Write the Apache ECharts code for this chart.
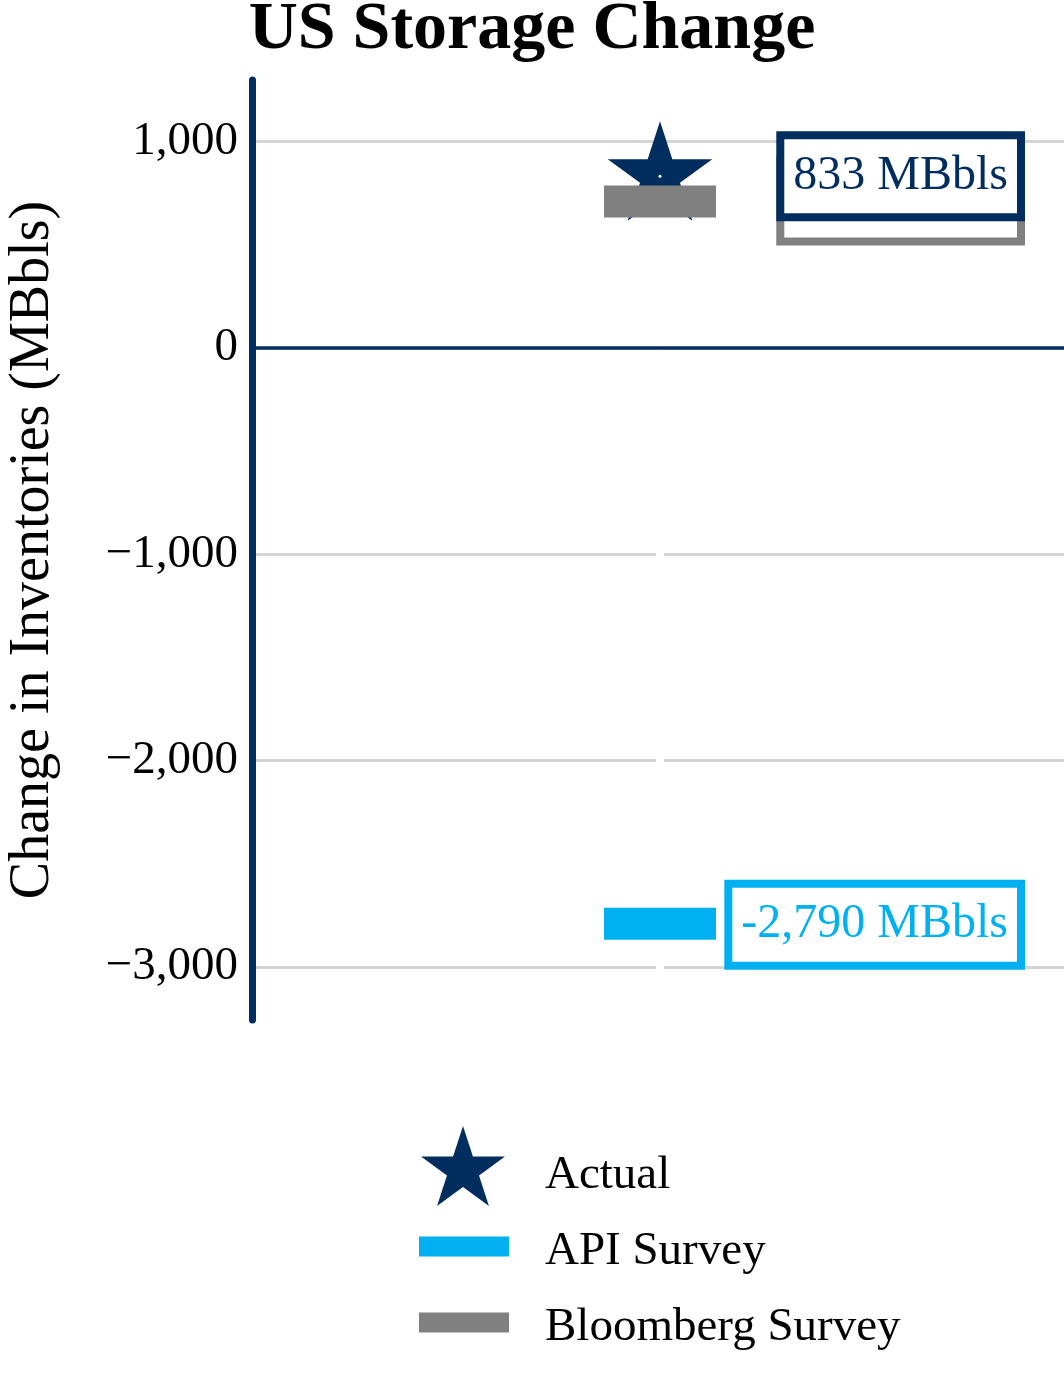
<!DOCTYPE html>
<html>
<head>
<meta charset="utf-8">
<script src="https://cdn.jsdelivr.net/npm/echarts@6/dist/echarts.min.js"></script>
<style>
html,body{margin:0;padding:0;background:#fff;}
#chart{width:1064px;height:1380px;}
</style>
</head>
<body>
<div id="chart"></div>
<script>
// ---- data ----
const seriesNames = ['Actual', 'API Survey', 'Bloomberg Survey'];
const actualValues = [833];
const apiValues = [-2790];
const bloombergValues = [710];
const yTicks = [-3000, -2000, -1000, 0, 1000];
const unit = 'MBbls';

const NAVY = '#022D5F';
const CYAN = '#00B0F0';
const GRAY = '#808080';
const FONT = "'Liberation Serif', 'Times New Roman', serif";

const STAR = 'path://M0,-50 L11.23,-15.45 L47.55,-15.45 L18.16,5.9 L29.39,40.45 L0,19.1 L-29.39,40.45 L-18.16,5.9 L-47.55,-15.45 L-11.23,-15.45 Z';

function fmtTick(v) {
  if (yTicks.indexOf(v) < 0) return '';
  return (v < 0 ? '\u2212' : '') + Math.abs(v).toLocaleString('en-US');
}
function fmtLabel(v) {
  return v.toLocaleString('en-US') + ' ' + unit;
}
function pts(arr) { return arr.map(v => [0, v]); }

function boxLabel(color, textColor) {
  return {
    show: true,
    position: 'inside',
    align: 'right',
    verticalAlign: 'middle',
    fontFamily: FONT,
    fontSize: 48,
    color: textColor,
    backgroundColor: '#fff',
    borderColor: color,
    borderWidth: 8,
    padding: [13, 9],
    lineHeight: 48,
    formatter: p => fmtLabel(p.value[1])
  };
}

function legendText(padTop, padLeft) {
  return {
    fontFamily: FONT, fontSize: 47, color: '#000',
    padding: [0, 0, 0, padLeft],
    rich: { t: { fontFamily: FONT, fontSize: 47, color: '#000', padding: [padTop, 0, 0, 0] } }
  };
}

const chart = echarts.init(document.getElementById('chart'));
chart.setOption({
  animation: false,
  backgroundColor: '#fff',
  title: {
    text: 'US Storage Change',
    left: 'center',
    top: -9,
    textStyle: { fontFamily: FONT, fontWeight: 'bold', fontSize: 68, color: '#000' }
  },
  grid: { left: 252, right: -4, top: 80, bottom: 360, containLabel: false, outerBoundsMode: 'none' },
  xAxis: {
    type: 'value', min: -1, max: 1,
    axisLine: { show: false }, axisTick: { show: false }, axisLabel: { show: false },
    splitLine: { show: false }
  },
  yAxis: {
    type: 'value', min: -3257, max: 1299, splitNumber: 5,
    axisLine: { show: true, onZero: false, lineStyle: { color: NAVY, width: 7 } },
    axisTick: { show: false },
    axisLabel: {
      fontFamily: FONT, fontSize: 47, color: '#000', margin: 14,
      showMinLabel: false, showMaxLabel: false,
      formatter: fmtTick
    },
    splitLine: { show: true, showMinLine: false, showMaxLine: false, lineStyle: { color: '#D3D3D3', width: 3 } },
    name: 'Change in Inventories (MBbls)',
    nameLocation: 'middle',
    nameRotate: 90,
    nameGap: 191,
    nameTextStyle: { fontFamily: FONT, fontSize: 56, color: '#000' }
  },
  legend: [
    {
      data: ['Actual'],
      left: 421, top: 1126, padding: 0,
      itemWidth: 84, itemHeight: 80,
      formatter: '{t|{name}}',
      textStyle: legendText(20, 35)
    },
    {
      data: ['API Survey'],
      left: 419, top: 1228, padding: 0,
      itemWidth: 90, itemHeight: 20,
      formatter: '{t|{name}}',
      textStyle: legendText(10, 31)
    },
    {
      data: ['Bloomberg Survey'],
      left: 419, top: 1304, padding: 0,
      itemWidth: 90, itemHeight: 20,
      formatter: '{t|{name}}',
      textStyle: legendText(10, 31)
    }
  ],
  series: [
    {
      name: 'guides', type: 'scatter', data: pts(actualValues), symbol: 'none', z: 1,
      silent: true,
      markLine: {
        z: 1,
        silent: true, symbol: 'none', label: { show: false },
        data: [
          { xAxis: 0, lineStyle: { color: '#fff', width: 8, type: 'solid' } },
          { yAxis: 0, lineStyle: { color: NAVY, width: 3.5, type: 'solid' } }
        ]
      }
    },
    {
      name: seriesNames[0], type: 'scatter', data: pts(actualValues), z: 3,
      symbol: STAR, symbolSize: [104.6, 99.5], symbolOffset: [0, -5.25],
      itemStyle: { color: NAVY, opacity: 1 }
    },
    {
      name: seriesNames[2], type: 'scatter', data: pts(bloombergValues), z: 4,
      symbol: 'rect', symbolSize: [112, 32],
      itemStyle: { color: GRAY, opacity: 1 },
      label: Object.assign(boxLabel(GRAY, GRAY), { offset: [357, -1] })
    },
    {
      name: seriesNames[1], type: 'scatter', data: pts(apiValues), z: 4,
      symbol: 'rect', symbolSize: [112, 32],
      itemStyle: { color: CYAN, opacity: 1 },
      label: Object.assign(boxLabel(CYAN, CYAN), { offset: [357, 1] })
    },
    {
      name: 'Actual label', type: 'scatter', data: pts(actualValues), z: 5,
      symbol: 'circle', symbolSize: 3,
      itemStyle: { color: '#fff', opacity: 1 },
      label: Object.assign(boxLabel(NAVY, NAVY), { offset: [357, 0] })
    }
  ]
});
</script>
</body>
</html>
